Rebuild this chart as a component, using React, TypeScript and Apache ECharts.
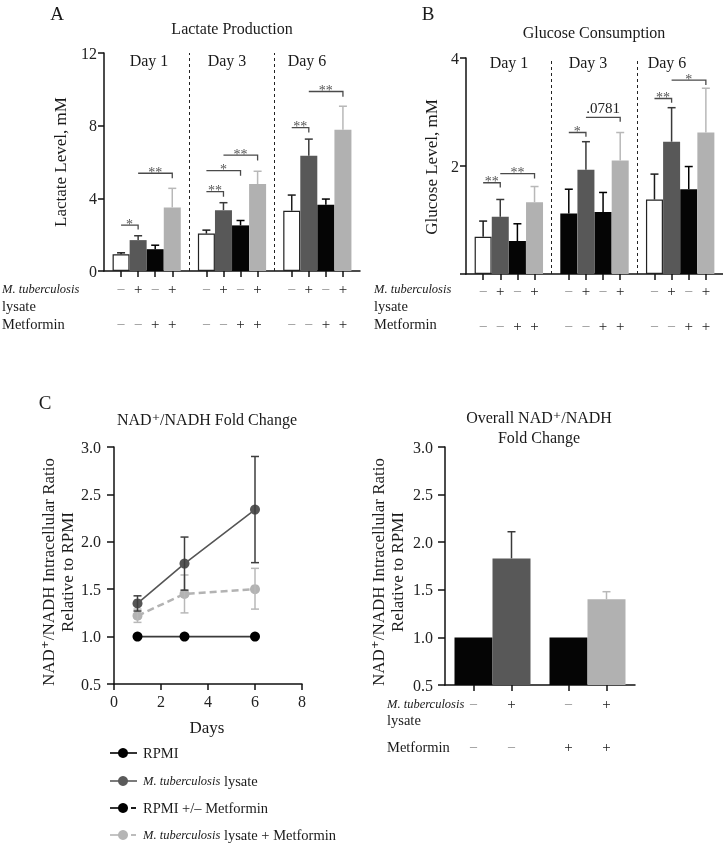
import React, { useEffect, useRef } from 'react';
import * as echarts from 'echarts';

// ---------- data ----------
const dayLabels = ['Day 1', 'Day 3', 'Day 6'];
const lysateSigns = ['–', '+', '–', '+'];
const metforminSigns = ['–', '–', '+', '+'];

// Panel A: lactate (mM), Day 1 / Day 3 / Day 6
const lactateRPMI = [0.92, 2.06, 3.32];
const lactateMtb = [1.7, 3.35, 6.34];
const lactateMet = [1.2, 2.51, 3.65];
const lactateMtbMet = [3.5, 4.79, 7.78];
const lactateRPMIErr = [0.08, 0.19, 0.86];
const lactateMtbErr = [0.24, 0.41, 0.92];
const lactateMetErr = [0.22, 0.27, 0.31];
const lactateMtbMetErr = [1.05, 0.7, 1.29];
// [day, fromBar, toBar, level, dropLevel, label]
const lactateBrackets: [number, number, number, number, number, string][] = [
  [0, 0, 1, 2.52, 2.29, '*'],
  [0, 1, 3, 5.38, 5.1, '**'],
  [1, 0, 1, 4.37, 4.09, '**'],
  [1, 0, 2, 5.53, 5.25, '*'],
  [1, 1, 3, 6.38, 6.08, '**'],
  [2, 0, 1, 7.89, 7.63, '**'],
  [2, 1, 3, 9.88, 9.59, '**'],
];

// Panel B: glucose (mM)
const glucoseRPMI = [0.69, 1.12, 1.38];
const glucoseMtb = [1.06, 1.93, 2.45];
const glucoseMet = [0.61, 1.15, 1.57];
const glucoseMtbMet = [1.33, 2.1, 2.62];
const glucoseRPMIErr = [0.29, 0.45, 0.47];
const glucoseMtbErr = [0.32, 0.52, 0.63];
const glucoseMetErr = [0.32, 0.36, 0.42];
const glucoseMtbMetErr = [0.29, 0.52, 0.82];
const glucoseBrackets: [number, number, number, number, number, string][] = [
  [0, 0, 1, 1.69, 1.6, '**'],
  [0, 1, 3, 1.86, 1.77, '**'],
  [1, 0, 1, 2.62, 2.54, '*'],
  [1, 1, 3, 2.9, 2.82, '.0781'],
  [2, 0, 1, 3.25, 3.17, '**'],
  [2, 1, 3, 3.59, 3.5, '*'],
];

// Panel C left: NAD+/NADH fold change over days
const days = [1, 3, 6];
const nadRPMI = [1.0, 1.0, 1.0];
const nadMtb = [1.35, 1.77, 2.34];
const nadMtbLow = [1.27, 1.49, 1.78];
const nadMtbHigh = [1.43, 2.05, 2.9];
const nadMtbMet = [1.22, 1.45, 1.5];
const nadMtbMetLow = [1.15, 1.25, 1.29];
const nadMtbMetHigh = [1.29, 1.65, 1.72];

// Panel C right: overall fold change
const overallValues = [1.0, 1.83, 1.0, 1.4];
const overallErr = [0, 0.28, 0, 0.08];

const legendLabels = [
  'RPMI',
  '{i|M. tuberculosis} lysate',
  'RPMI +/– Metformin',
  '{i|M. tuberculosis} lysate + Metformin',
];

// ---------- styling ----------
const FONT = "'Liberation Serif', 'DejaVu Serif', 'Times New Roman', serif";
const INK = '#1a1a1a';
const WHITE = '#ffffff';
const DARK = '#585858';
const BLACK = '#050505';
const LIGHT = '#b1b1ae';
const conditionFill = [WHITE, DARK, BLACK, LIGHT];
const conditionErr = ['#1c1c1c', '#3a3a3a', '#000000', '#b8b8b8'];

const slot = (day: number, bar: number) => 1 + 5 * day + bar;
const slotOverall = (i: number) => 3 + 10 * Math.floor(i / 2) + 4 * (i % 2);

const barSlots = new Set<number>();
dayLabels.forEach((_, d) => lysateSigns.forEach((__, b) => barSlots.add(slot(d, b))));
const overallSlots = overallValues.map((_, i) => slotOverall(i));

const lineStyle = { color: '#111', width: 1.5 };
const signRich = {
  m: { color: '#8a8a8a', fontSize: 14, fontFamily: FONT },
  p: { color: '#1a1a1a', fontSize: 15, fontFamily: FONT },
};
const signFmt = (s: string) => (s === '+' ? '{p|+}' : '{m|–}');

function catAxis(gridIndex: number, count: number, isShown: (i: number) => boolean, signOf: (i: number) => string, main: boolean, offset: number, margin: number) {
  return {
    type: 'category',
    gridIndex,
    data: Array.from({ length: count }, (_, i) => String(i)),
    boundaryGap: false,
    position: 'bottom',
    offset,
    axisLine: { show: main, lineStyle },
    axisTick: { show: main, interval: (i: number) => isShown(i), length: 6, lineStyle },
    axisLabel: {
      show: true,
      interval: (i: number) => isShown(i),
      margin,
      fontFamily: FONT,
      formatter: (_v: string, i: number) => (isShown(i) ? signFmt(signOf(i)) : ''),
      rich: signRich,
    },
    splitLine: { show: false },
  };
}

function valAxis(gridIndex: number, min: number, max: number, interval: number, fmt: (v: number) => string, margin: number, tickLen: number) {
  return {
    type: 'value',
    gridIndex,
    min,
    max,
    interval,
    axisLine: { show: true, lineStyle },
    axisTick: { show: true, length: tickLen, lineStyle },
    axisLabel: { fontFamily: FONT, fontSize: 16, color: '#222', margin, formatter: fmt },
    splitLine: { show: false },
  };
}

function barSeries(means: number[][], xAxisIndex: number, yAxisIndex: number, fillFor: (c: number, d: number) => string, withDividers: boolean) {
  return means.map((arr, c) => ({
    type: 'bar',
    name: 'cond' + c,
    xAxisIndex,
    yAxisIndex,
    barWidth: 17,
    barGap: '-100%',
    z: 2,
    data: arr.map((v, d) => {
      const fill = fillFor(c, d);
      return {
        value: [slot(d, c), v],
        itemStyle: { color: fill, borderColor: fill === WHITE ? '#222' : fill, borderWidth: fill === WHITE ? 1.2 : 0 },
      };
    }),
    markLine:
      withDividers && c === 0
        ? {
            silent: true,
            symbol: ['none', 'none'],
            label: { show: false },
            lineStyle: { type: [3, 3], color: '#222', width: 1 },
            data: [{ xAxis: 5 }, { xAxis: 10 }],
          }
        : undefined,
  }));
}

function errorSeries(items: { x: number; lo: number; hi: number; color: string; both: boolean }[], xAxisIndex: number, yAxisIndex: number) {
  return {
    type: 'custom',
    xAxisIndex,
    yAxisIndex,
    z: 5,
    encode: { x: 0, y: [1, 2] },
    data: items.map((it) => [it.x, it.lo, it.hi]),
    renderItem: (params: any, api: any) => {
      const it = items[params.dataIndex];
      const x = api.value(0);
      const p1 = api.coord([x, api.value(1)]);
      const p2 = api.coord([x, api.value(2)]);
      const st = { stroke: it.color, lineWidth: 1.5 };
      const children: any[] = [
        { type: 'line', shape: { x1: p1[0], y1: p1[1], x2: p2[0], y2: p2[1] }, style: st },
        { type: 'line', shape: { x1: p2[0] - 4, y1: p2[1], x2: p2[0] + 4, y2: p2[1] }, style: st },
      ];
      if (it.both) children.push({ type: 'line', shape: { x1: p1[0] - 4, y1: p1[1], x2: p1[0] + 4, y2: p1[1] }, style: st });
      return { type: 'group', children };
    },
  };
}

function bracketSeries(list: [number, number, number, number, number, string][], xAxisIndex: number, yAxisIndex: number) {
  return {
    type: 'custom',
    xAxisIndex,
    yAxisIndex,
    z: 6,
    encode: { x: [0, 1], y: [2, 3] },
    data: list.map((b) => [slot(b[0], b[1]), slot(b[0], b[2]), b[3], b[4]]),
    renderItem: (params: any, api: any) => {
      const b = list[params.dataIndex];
      const a = api.coord([api.value(0), api.value(2)]);
      const e = api.coord([api.value(1), api.value(2)]);
      const f = api.coord([api.value(1), api.value(3)]);
      const numeric = /\d/.test(b[5]);
      return {
        type: 'group',
        children: [
          { type: 'polyline', shape: { points: [a, e, f] }, style: { stroke: '#4a4a4a', lineWidth: 1.3, fill: null } },
          {
            type: 'text',
            x: (a[0] + e[0]) / 2,
            y: a[1] - (numeric ? 9 : 1),
            style: { text: b[5], fontFamily: FONT, fontSize: numeric ? 15 : 14, fill: numeric ? '#222' : '#555', align: 'center', verticalAlign: 'middle' },
          },
        ],
      };
    },
  };
}

function txt(x: number, y: number, text: string, size: number, extra: any = {}, rotation = 0, italicSize = size) {
  return {
    type: 'text',
    x,
    y,
    rotation,
    silent: true,
    style: {
      text,
      fontFamily: FONT,
      fontSize: size,
      fill: INK,
      align: 'center',
      verticalAlign: 'middle',
      rich: { i: { fontStyle: 'italic', fontFamily: FONT, fontSize: italicSize, fill: INK } },
      ...extra,
    },
  };
}

function buildOption() {
  const lactate = [lactateRPMI, lactateMtb, lactateMet, lactateMtbMet];
  const lactateErr = [lactateRPMIErr, lactateMtbErr, lactateMetErr, lactateMtbMetErr];
  const glucose = [glucoseRPMI, glucoseMtb, glucoseMet, glucoseMtbMet];
  const glucoseErr = [glucoseRPMIErr, glucoseMtbErr, glucoseMetErr, glucoseMtbMetErr];

  const fillA = (c: number) => conditionFill[c];
  // in the source figure, the Day 3 RPMI bar of panel B is drawn black
  const fillB = (c: number, d: number) => (c === 0 && d === 1 ? BLACK : conditionFill[c]);
  const errColorB = (c: number, d: number) => (c === 0 && d === 1 ? '#000' : conditionErr[c]);

  const errItems = (means: number[][], errs: number[][], colorFor: (c: number, d: number) => string) => {
    const out: any[] = [];
    means.forEach((arr, c) => arr.forEach((v, d) => out.push({ x: slot(d, c), lo: v, hi: v + errs[c][d], color: colorFor(c, d), both: false })));
    return out;
  };

  const signA = (i: number) => lysateSigns[(i - 1) % 5];
  const metA = (i: number) => metforminSigns[(i - 1) % 5];
  const isBar = (i: number) => barSlots.has(i);
  const isOverall = (i: number) => overallSlots.includes(i);
  const signC = (i: number) => lysateSigns[overallSlots.indexOf(i)];
  const metC = (i: number) => metforminSigns[overallSlots.indexOf(i)];

  const nadErrItems = [
    ...days.map((d, i) => ({ x: d, lo: nadMtbMetLow[i], hi: nadMtbMetHigh[i], color: '#b8b8b8', both: true })),
    ...days.map((d, i) => ({ x: d, lo: nadMtbLow[i], hi: nadMtbHigh[i], color: '#3e3e3e', both: true })),
  ];

  const overallFill = [BLACK, DARK, BLACK, LIGHT];
  const overallErrColor = ['#000', '#3a3a3a', '#000', '#b8b8b8'];

  const graphics: any[] = [
    txt(57, 13, 'A', 19),
    txt(428, 13, 'B', 19),
    txt(45, 402, 'C', 19),
    txt(232, 28, 'Lactate Production', 16),
    txt(594, 32, 'Glucose Consumption', 16),
    txt(207, 419, 'NAD⁺/NADH Fold Change', 16),
    txt(539, 427, 'Overall NAD⁺/NADH\nFold Change', 16, { lineHeight: 20 }),
    txt(60, 162, 'Lactate Level, mM', 17, {}, Math.PI / 2),
    txt(431, 167, 'Glucose Level, mM', 17, {}, Math.PI / 2),
    txt(57.5, 572, 'NAD⁺/NADH Intracellular Ratio\nRelative to RPMI', 17, { lineHeight: 19 }, Math.PI / 2),
    txt(387.5, 572, 'NAD⁺/NADH Intracellular Ratio\nRelative to RPMI', 17, { lineHeight: 19 }, Math.PI / 2),
    txt(207, 727, 'Days', 17),
  ];
  const dayCentersA = [149, 227, 307];
  const dayCentersB = [509, 588, 667];
  dayLabels.forEach((l, d) => {
    graphics.push(txt(dayCentersA[d], 60, l, 16));
    graphics.push(txt(dayCentersB[d], 62, l, 16));
  });
  const rowLabels = (x: number, y1: number, y2: number, y3: number) => [
    txt(x, y1, '{i|M. tuberculosis}', 14.5, { align: 'left' }, 0, 12.5),
    txt(x, y2, 'lysate', 14.5, { align: 'left' }),
    txt(x, y3, 'Metformin', 14.5, { align: 'left' }),
  ];
  graphics.push(...rowLabels(2, 289, 306, 324));
  graphics.push(...rowLabels(374, 289, 306, 324));
  graphics.push(...rowLabels(387, 704, 720, 747));

  // legend
  const legendY = [753, 781, 808, 835];
  const legendColor = ['#000', '#5a5a5a', '#000', '#b5b5b5'];
  legendLabels.forEach((label, i) => {
    const y = legendY[i];
    const c = legendColor[i];
    if (i < 2) {
      graphics.push({ type: 'line', silent: true, shape: { x1: 110, y1: y, x2: 137, y2: y }, style: { stroke: c, lineWidth: 1.6 } });
    } else {
      graphics.push({ type: 'line', silent: true, shape: { x1: 110, y1: y, x2: 123, y2: y }, style: { stroke: c, lineWidth: 1.6 } });
      graphics.push({ type: 'line', silent: true, shape: { x1: 131, y1: y, x2: 136, y2: y }, style: { stroke: c, lineWidth: 1.8 } });
    }
    graphics.push({ type: 'circle', silent: true, shape: { cx: 123, cy: y, r: 5 }, style: { fill: c } });
    graphics.push(txt(143, y, label, 14.5, { align: 'left' }, 0, 12.5));
  });

  return {
    animation: false,
    backgroundColor: '#ffffff',
    textStyle: { fontFamily: FONT },
    grid: [
      { left: 104, top: 53, width: 256, height: 218, outerBoundsMode: 'none' },
      { left: 466, top: 58, width: 257, height: 216, outerBoundsMode: 'none' },
      { left: 114, top: 447, width: 188, height: 237, outerBoundsMode: 'none' },
      { left: 445, top: 447, width: 190, height: 238, outerBoundsMode: 'none' },
    ],
    xAxis: [
      catAxis(0, 16, isBar, signA, true, 0, 10),
      catAxis(0, 16, isBar, metA, false, 35, 10),
      catAxis(1, 16, isBar, signA, true, 0, 9),
      catAxis(1, 16, isBar, metA, false, 35, 9),
      {
        type: 'value',
        gridIndex: 2,
        min: 0,
        max: 8,
        interval: 2,
        axisLine: { show: true, lineStyle },
        axisTick: { show: true, length: 6, lineStyle },
        axisLabel: { fontFamily: FONT, fontSize: 16, color: '#222', margin: 9 },
        splitLine: { show: false },
      },
      catAxis(3, 21, isOverall, signC, true, 0, 11),
      catAxis(3, 21, isOverall, metC, false, 43, 11),
    ],
    yAxis: [
      valAxis(0, 0, 12, 4, (v) => String(v), 7, 6),
      valAxis(1, 0, 4, 2, (v) => (v === 0 ? '' : String(v)), 7, 6),
      valAxis(2, 0.5, 3, 0.5, (v) => v.toFixed(1), 13, 7),
      valAxis(3, 0.5, 3, 0.5, (v) => v.toFixed(1), 12, 7),
    ],
    graphic: graphics,
    series: [
      ...barSeries(lactate, 0, 0, fillA, true),
      errorSeries(errItems(lactate, lactateErr, (c) => conditionErr[c]), 0, 0),
      bracketSeries(lactateBrackets, 0, 0),
      ...barSeries(glucose, 2, 1, fillB, true),
      errorSeries(errItems(glucose, glucoseErr, errColorB), 2, 1),
      bracketSeries(glucoseBrackets, 2, 1),
      // Panel C left
      errorSeries(nadErrItems, 4, 2),
      {
        type: 'line',
        name: 'M. tuberculosis lysate + Metformin',
        xAxisIndex: 4,
        yAxisIndex: 2,
        data: days.map((d, i) => [d, nadMtbMet[i]]),
        symbol: 'circle',
        symbolSize: 10,
        lineStyle: { color: '#b3b3b3', width: 2.5, type: [7, 4] },
        itemStyle: { color: '#b3b3b3' },
        z: 3,
      },
      {
        type: 'line',
        name: 'M. tuberculosis lysate',
        xAxisIndex: 4,
        yAxisIndex: 2,
        data: days.map((d, i) => [d, nadMtb[i]]),
        symbol: 'circle',
        symbolSize: 10,
        lineStyle: { color: '#555', width: 1.6 },
        itemStyle: { color: '#555' },
        z: 4,
      },
      {
        type: 'line',
        name: 'RPMI',
        xAxisIndex: 4,
        yAxisIndex: 2,
        data: days.map((d, i) => [d, nadRPMI[i]]),
        symbol: 'circle',
        symbolSize: 10,
        lineStyle: { color: '#3a3a3a', width: 1.6 },
        itemStyle: { color: '#000' },
        z: 4,
      },
      // Panel C right
      {
        type: 'bar',
        xAxisIndex: 5,
        yAxisIndex: 3,
        barWidth: 38,
        z: 2,
        data: overallValues.map((v, i) => ({
          value: [slotOverall(i), v],
          itemStyle: { color: overallFill[i] },
        })),
      },
      errorSeries(
        overallValues
          .map((v, i) => ({ x: slotOverall(i), lo: v, hi: v + overallErr[i], color: overallErrColor[i], both: false }))
          .filter((_, i) => overallErr[i] > 0),
        5,
        3
      ),
    ],
  };
}

export default function App() {
  const ref = useRef<HTMLDivElement>(null);
  useEffect(() => {
    const chart = echarts.init(ref.current!, null, { renderer: 'svg' });
    chart.setOption(buildOption() as any);
    return () => chart.dispose();
  }, []);
  return (
    <div
      ref={ref}
      style={{ position: 'absolute', left: 0, top: 0, width: 723, height: 845, filter: 'grayscale(100%)' }}
    />
  );
}
